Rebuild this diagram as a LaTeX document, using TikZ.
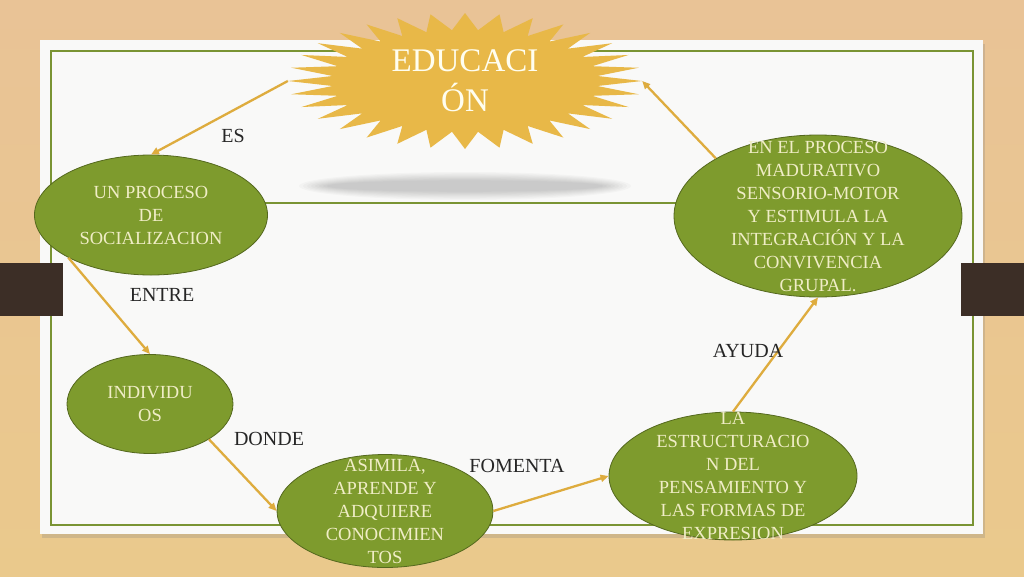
\documentclass[tikz,border=0pt]{standalone}
\usepackage{fontspec}
\setmainfont{Liberation Serif}
\usetikzlibrary{shapes,arrows.meta,positioning,shadows}
\definecolor{woodtop}{RGB}{233,195,150}
\definecolor{woodbot}{RGB}{234,201,140}
\definecolor{paper}{RGB}{249,249,248}
\definecolor{framegreen}{RGB}{122,148,52}
\definecolor{blobgreen}{RGB}{126,155,45}
\definecolor{blobline}{RGB}{84,104,30}
\definecolor{blobcream}{RGB}{240,237,198}
\definecolor{stargold}{RGB}{232,184,72}
\definecolor{arrowgold}{RGB}{222,172,62}
\definecolor{tabbrown}{RGB}{60,46,38}

\begin{document}
\begin{tikzpicture}[x=1pt,y=-1pt,
    blob/.style={ellipse,draw=blobline,fill=blobgreen,line width=0.8pt,inner sep=0pt},
    blobtext/.style={text=blobcream,align=center,inner sep=0pt,font=\fontsize{18.5}{23}\selectfont},
    word/.style={text=black!85,inner sep=1pt,font=\fontsize{20}{24}\selectfont},
    link/.style={draw=arrowgold,line width=2.3pt,-{Triangle[length=8pt,width=7pt]}}]
    \useasboundingbox (0,0) rectangle (1024,576);
    \shade[top color=woodtop,bottom color=woodbot] (0,0) rectangle (1024,576);
    \fill[paper,drop shadow={shadow xshift=2pt,shadow yshift=-4pt,opacity=0.25}] (40,40) rectangle (983,534);
    \draw[framegreen,line width=1.4pt] (51,51) rectangle (973,525);
    \fill[tabbrown] (0,263) rectangle (63,316);
    \fill[tabbrown] (961,263) rectangle (1024,316);

    % shadow under the star
    \foreach \k in {0,...,7}
        \fill[black,opacity=0.025] (465,186) ellipse [x radius={166-4*\k}, y radius={14-1.2*\k}];
    \draw[framegreen,line width=1.4pt] (51,203) -- (700,203);

    % star
    \coordinate (educ) at (465,81);
    \fill[stargold,shift={(educ)}] (0:177 and 68)
        \foreach \i in {0,...,31} { -- ({\i*11.25}:177 and 68) -- ({\i*11.25+5.625}:133 and 51) } -- cycle;
    \node[text=white!94!yellow,align=center,inner sep=0pt,minimum width=354pt,minimum height=136pt,
        font=\fontsize{33}{40}\selectfont] (edu) at (educ) {EDUCACI\\ÓN};

    \node[blob,minimum width=233pt,minimum height=120pt] (soc) at (151,215) {};
    \node[blobtext] (socT) at (soc) {UN PROCESO\\DE\\SOCIALIZACION};
    \node[blob,minimum width=166pt,minimum height=99pt] (indiv) at (150,404) {};
    \node[blobtext] (indivT) at (indiv) {INDIVIDU\\OS};
    \node[blob,minimum width=216pt,minimum height=113pt] (asim) at (385,511) {};
    \node[blobtext] (asimT) at (asim) {ASIMILA,\\APRENDE Y\\ADQUIERE\\CONOCIMIEN\\TOS};
    \node[blob,minimum width=248pt,minimum height=128pt] (estr) at (733,476) {};
    \node[blobtext] (estrT) at (estr) {LA\\ESTRUCTURACIO\\N DEL\\PENSAMIENTO Y\\LAS FORMAS DE\\EXPRESION};
    \node[blob,minimum width=288pt,minimum height=162pt] (senso) at (818,216) {};
    \node[blobtext] (sensoT) at (senso) {EN EL PROCESO\\MADURATIVO\\SENSORIO-MOTOR\\Y ESTIMULA LA\\INTEGRACIÓN Y LA\\CONVIVENCIA\\GRUPAL.};

    \draw[link] (edu.west) -- (soc.north);
    \draw[link] (soc.south west) -- (indiv.north);
    \draw[link] (indiv.south east) -- (asim.west);
    \draw[link] (asim.east) -- (estr.west);
    \draw[link] (estr.north) -- (senso.south);
    \draw[link] (senso.north west) -- (edu.east);

    \node[word] (es) at (233,136) {ES};
    \node[word] (entre) at (162,295) {ENTRE};
    \node[word] (donde) at (269,439) {DONDE};
    \node[word] (fomenta) at (517,466) {FOMENTA};
    \node[word] (ayuda) at (748,351) {AYUDA};
\end{tikzpicture}
\end{document}
